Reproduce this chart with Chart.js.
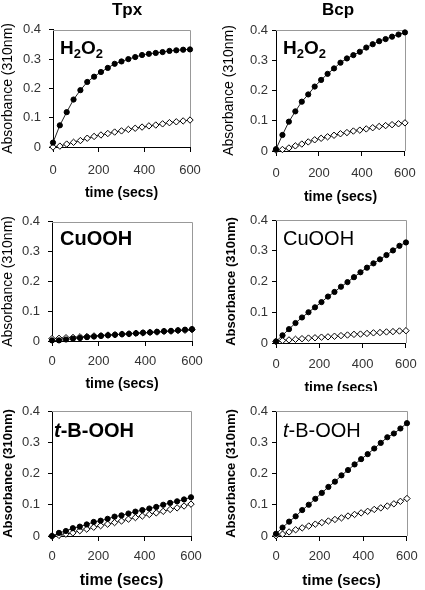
<!DOCTYPE html>
<html>
<head>
<meta charset="utf-8">
<script src="https://cdn.jsdelivr.net/npm/chart.js@4"></script>
<style>
  body { margin: 0; background: #fff; }
  #wrap { position: relative; width: 425px; height: 590px; overflow: hidden; font-family: "Liberation Sans", Arial, sans-serif; }
  canvas { position: absolute; }
  .head { position: absolute; top: 0; z-index: 2; font-weight: bold; font-size: 17px; line-height: 1.15; transform: translateX(-50%); }
</style>
</head>
<body>
<div id="wrap">
  <canvas id="c1"></canvas>
  <canvas id="c2"></canvas>
  <canvas id="c3"></canvas>
  <canvas id="c4"></canvas>
  <canvas id="c5"></canvas>
  <canvas id="c6"></canvas>
  <div class="head" style="left:127px">Tpx</div>
  <div class="head" style="left:338px">Bcp</div>
</div>
<script>
// Sampling times (secs) and axis ticks
const times = [0, 30, 60, 90, 120, 150, 180, 210, 240, 270, 300, 330, 360, 390, 420, 450, 480, 510, 540, 570, 600];
const xTicks = [0, 200, 400, 600];
const yTicks = [0, 0.1, 0.2, 0.3, 0.4];

// Absorbance (310nm) - filled circles / open diamonds
const tpxH2o2Filled = [0.015, 0.074, 0.119, 0.162, 0.194, 0.222, 0.240, 0.256, 0.270, 0.284, 0.292, 0.300, 0.307, 0.314, 0.318, 0.321, 0.324, 0.328, 0.330, 0.332, 0.333];
const tpxH2o2Open = [0.000, 0.003, 0.010, 0.016, 0.022, 0.030, 0.036, 0.041, 0.046, 0.051, 0.055, 0.060, 0.064, 0.068, 0.072, 0.075, 0.079, 0.083, 0.086, 0.089, 0.092];
const bcpH2o2Filled = [0.006, 0.053, 0.097, 0.131, 0.163, 0.187, 0.213, 0.235, 0.255, 0.273, 0.292, 0.306, 0.317, 0.328, 0.342, 0.353, 0.363, 0.370, 0.378, 0.385, 0.392];
const bcpH2o2Open = [0.003, 0.005, 0.010, 0.017, 0.023, 0.030, 0.037, 0.042, 0.047, 0.052, 0.057, 0.061, 0.066, 0.069, 0.073, 0.077, 0.081, 0.084, 0.087, 0.090, 0.093];
const tpxCuoohFilled = [0.002, 0.002, 0.005, 0.008, 0.010, 0.013, 0.015, 0.017, 0.019, 0.021, 0.023, 0.024, 0.026, 0.028, 0.029, 0.031, 0.033, 0.034, 0.036, 0.038, 0.040];
const tpxCuoohOpen = [0.008, 0.009, 0.011, 0.012, 0.014, 0.015, 0.017, 0.018, 0.020, 0.021, 0.023, 0.024, 0.026, 0.027, 0.029, 0.030, 0.032, 0.033, 0.035, 0.036, 0.038];
const bcpCuoohFilled = [0.005, 0.025, 0.045, 0.065, 0.083, 0.100, 0.116, 0.133, 0.151, 0.166, 0.183, 0.198, 0.214, 0.230, 0.245, 0.259, 0.272, 0.286, 0.301, 0.316, 0.327];
const bcpCuoohOpen = [0.005, 0.008, 0.010, 0.012, 0.014, 0.016, 0.017, 0.019, 0.020, 0.022, 0.024, 0.026, 0.028, 0.029, 0.031, 0.033, 0.034, 0.036, 0.037, 0.039, 0.040];
const tpxTbFilled = [0.000, 0.010, 0.016, 0.025, 0.030, 0.037, 0.045, 0.049, 0.055, 0.062, 0.066, 0.072, 0.078, 0.083, 0.088, 0.093, 0.100, 0.106, 0.111, 0.117, 0.124];
const tpxTbOpen = [0.000, 0.002, 0.006, 0.010, 0.017, 0.022, 0.028, 0.033, 0.038, 0.043, 0.048, 0.054, 0.059, 0.064, 0.069, 0.074, 0.079, 0.085, 0.090, 0.096, 0.102];
const bcpTbFilled = [0.007, 0.027, 0.046, 0.063, 0.083, 0.100, 0.119, 0.138, 0.157, 0.174, 0.194, 0.211, 0.229, 0.246, 0.262, 0.280, 0.298, 0.316, 0.328, 0.344, 0.361];
const bcpTbOpen = [0.001, 0.006, 0.013, 0.020, 0.026, 0.032, 0.038, 0.043, 0.048, 0.053, 0.058, 0.064, 0.069, 0.074, 0.079, 0.085, 0.090, 0.096, 0.103, 0.111, 0.120];

const FONT = '"Liberation Sans", Arial, sans-serif';

// Label pieces: text, size, weight, style, baseline shift
const h2o2Label = (w) => [
    { text: 'H', size: 19, weight: w, style: 'normal', shift: 0 },
    { text: '2', size: 13, weight: w, style: 'normal', shift: 4 },
    { text: 'O', size: 19, weight: w, style: 'normal', shift: 0 },
    { text: '2', size: 13, weight: w, style: 'normal', shift: 4 },
];
const tbLabel = (w) => [
    { text: 't', size: 20, weight: w, style: 'italic', shift: 0 },
    { text: '-B-OOH', size: 20, weight: w, style: 'normal', shift: 0 },
];
const plainLabel = (txt, w) => [{ text: txt, size: 20, weight: w, style: 'normal', shift: 0 }];

// Panel layout: canvas box [x, y, w, h], plot area [l, t, r, b]
const panels = [
    { id: 'c1', box: [0, 14, 212, 188], plot: [53, 28, 190, 147], tickY: 170, tickPad: 8, xTitleY: 193, xTitleSize: 14, yTitleX: 8, yTitleFont: { size: 14 },
      label: h2o2Label('bold'), labelAt: [7, 24], filled: tpxH2o2Filled, open: tpxH2o2Open },
    { id: 'c2', box: [212, 16, 213, 190], plot: [276, 30, 414, 151], tickY: 173, tickPad: 4, xTitleY: 197, xTitleSize: 14, yTitleX: 229, yTitleFont: { size: 14 },
      label: h2o2Label('bold'), labelAt: [7, 24], filled: bcpH2o2Filled, open: bcpH2o2Open },
    { id: 'c3', box: [0, 206, 212, 187], plot: [52, 220, 192, 341], tickY: 361, tickPad: 8, xTitleY: 384, xTitleSize: 14, yTitleX: 8, yTitleFont: { size: 14 },
      label: plainLabel('CuOOH', 'bold'), labelAt: [8, 23], filled: tpxCuoohFilled, open: tpxCuoohOpen },
    { id: 'c4', box: [212, 206, 213, 191], plot: [276, 220, 414, 343], tickY: 364, tickPad: 4, xTitleY: 388, xTitleSize: 14, yTitleX: 231, yTitleFont: { size: 13, weight: 'bold' },
      label: plainLabel('CuOOH', 'normal'), labelAt: [7, 25], filled: bcpCuoohFilled, open: bcpCuoohOpen },
    { id: 'c5', box: [0, 391, 212, 199], plot: [52, 411, 191, 536], tickY: 556, tickPad: 8, xTitleY: 582, xTitleSize: 16, yTitleX: 8, yTitleFont: { size: 13, weight: 'bold' },
      label: tbLabel('bold'), labelAt: [2, 26], filled: tpxTbFilled, open: tpxTbOpen },
    { id: 'c6', box: [212, 391, 213, 199], plot: [276, 411, 414, 536], tickY: 556, tickPad: 4, xTitleY: 582, xTitleSize: 15, yTitleX: 231, yTitleFont: { size: 13, weight: 'bold' },
      label: tbLabel('normal'), labelAt: [7, 26], filled: bcpTbFilled, open: bcpTbOpen },
];

const panelById = {};
panels.forEach(p => { panelById[p.id] = p; });

// White background, grey top/right frame and the in-plot label
const panelDecor = {
    id: 'panelDecor',
    beforeDraw(chart) {
        const ctx = chart.ctx;
        ctx.save();
        ctx.fillStyle = '#fff';
        ctx.fillRect(0, 0, chart.width, chart.height);
        ctx.restore();
    },
    beforeDatasetsDraw(chart) {
        const { ctx, chartArea: a } = chart;
        ctx.save();
        ctx.strokeStyle = '#999';
        ctx.lineWidth = 1;
        ctx.beginPath();
        ctx.moveTo(Math.round(a.left), Math.round(a.top) + 0.5);
        ctx.lineTo(Math.round(a.right) + 0.5, Math.round(a.top) + 0.5);
        ctx.lineTo(Math.round(a.right) + 0.5, Math.round(a.bottom));
        ctx.stroke();
        ctx.restore();
    },
    afterDraw(chart) {
        const p = panelById[chart.canvas.id];
        if (!p) return;
        const { ctx, chartArea: a } = chart;
        ctx.save();
        ctx.fillStyle = '#000';
        ctx.textBaseline = 'alphabetic';
        ctx.textAlign = 'left';
        let x = a.left + p.labelAt[0];
        const y = a.top + p.labelAt[1];
        p.label.forEach(part => {
            ctx.font = part.style + ' ' + part.weight + ' ' + part.size + 'px ' + FONT;
            ctx.fillText(part.text, x, y + part.shift);
            x += ctx.measureText(part.text).width;
        });
        ctx.restore();
    }
};

function toPoints(values) {
    return values.map((v, i) => ({ x: times[i], y: v }));
}

function buildPanel(p) {
    const [bx, by, bw, bh] = p.box;
    const [l, t, r, b] = p.plot;
    const canvas = document.getElementById(p.id);
    canvas.width = bw;
    canvas.height = bh;
    canvas.style.left = bx + 'px';
    canvas.style.top = by + 'px';

    const tickSize = 13;
    const xLh = p.xTitleSize * 1.2;
    const yLh = p.yTitleFont.size * 1.2;

    return new Chart(canvas.getContext('2d'), {
        type: 'line',
        data: {
            datasets: [{
                data: toPoints(p.filled),
                borderColor: '#222',
                borderWidth: 1,
                pointStyle: 'circle',
                pointRadius: 2.6,
                pointBackgroundColor: '#000',
                pointBorderColor: '#000',
                pointBorderWidth: 1,
                clip: false,
                tension: 0
            }, {
                data: toPoints(p.open),
                borderColor: '#222',
                borderWidth: 1,
                pointStyle: 'rectRot',
                pointRadius: 3.2,
                pointBackgroundColor: '#fff',
                pointBorderColor: '#000',
                pointBorderWidth: 1,
                clip: false,
                tension: 0
            }]
        },
        options: {
            responsive: false,
            animation: false,
            layout: { padding: { top: t - by, right: bx + bw - r, bottom: 0, left: 0 } },
            plugins: {
                legend: { display: false },
                tooltip: { enabled: false }
            },
            scales: {
                x: {
                    type: 'linear',
                    min: 0,
                    max: 600,
                    afterBuildTicks: s => { s.ticks = xTicks.map(v => ({ value: v })); },
                    afterFit: s => { s.height = by + bh - b; },
                    grid: { drawOnChartArea: false, drawTicks: true, tickLength: 5, color: '#000' },
                    border: { display: true, color: '#000' },
                    ticks: { color: '#333', font: { family: FONT, size: tickSize }, padding: p.tickY - b - 5 - tickSize * 0.6, maxRotation: 0 },
                    title: {
                        display: true,
                        text: 'time (secs)',
                        color: '#000',
                        font: { family: FONT, size: p.xTitleSize, weight: 'bold' },
                        padding: { top: 0, bottom: Math.max(0, by + bh - p.xTitleY - xLh / 2) }
                    }
                },
                y: {
                    min: 0,
                    max: 0.4,
                    afterBuildTicks: s => { s.ticks = yTicks.map(v => ({ value: v })); },
                    afterFit: s => { s.width = l - bx; },
                    grid: { drawOnChartArea: false, drawTicks: true, tickLength: 4, color: '#000' },
                    border: { display: true, color: '#000' },
                    ticks: { color: '#333', font: { family: FONT, size: tickSize }, padding: p.tickPad },
                    title: {
                        display: true,
                        text: 'Absorbance (310nm)',
                        color: '#000',
                        font: Object.assign({ family: FONT }, p.yTitleFont),
                        padding: { top: Math.max(0, p.yTitleX - bx - yLh / 2), bottom: 0 }
                    }
                }
            }
        },
        plugins: [panelDecor]
    });
}

panels.forEach(buildPanel);
</script>
</body>
</html>
